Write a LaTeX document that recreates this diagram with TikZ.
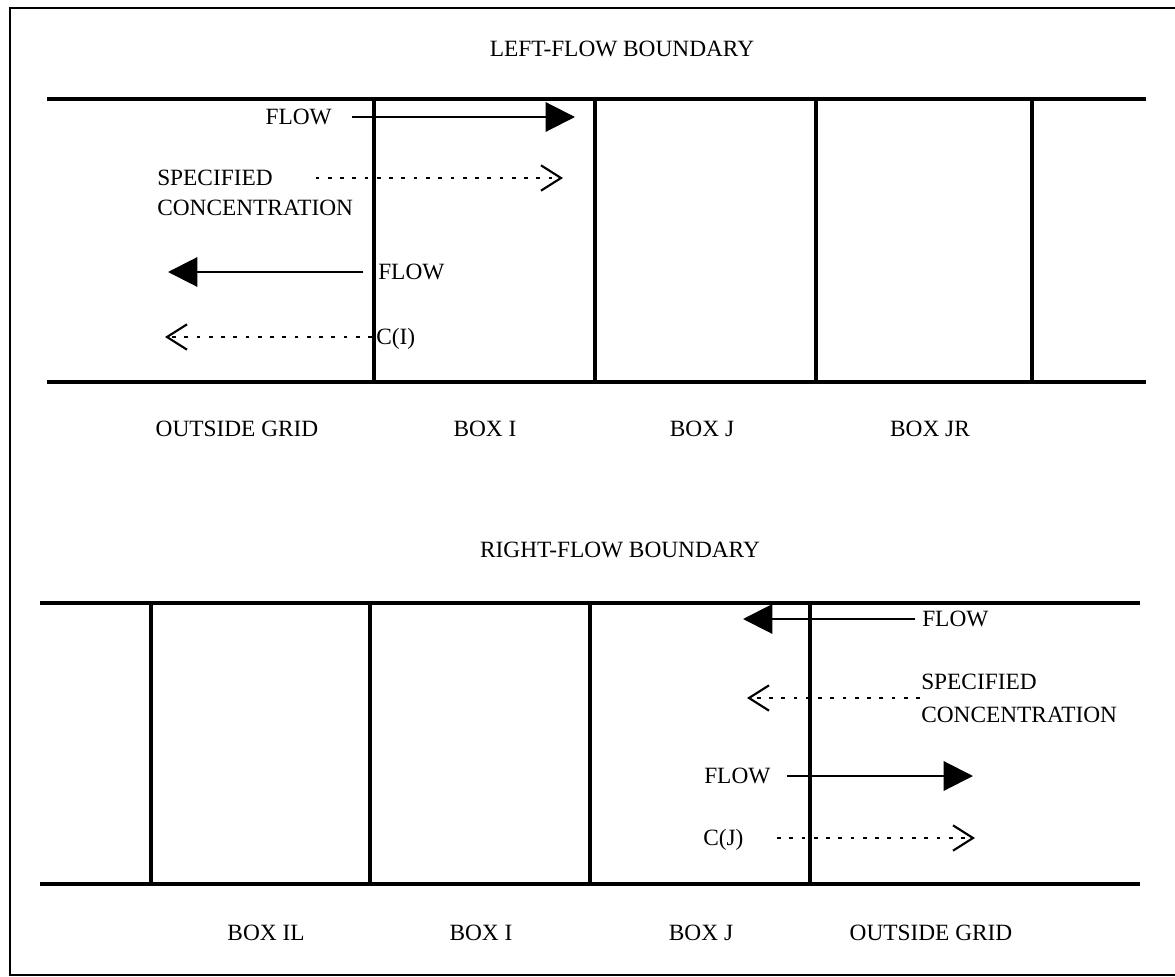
\documentclass[tikz,border=0pt]{standalone}
\usepackage{fontspec}
\setmainfont{Liberation Serif}
\usetikzlibrary{arrows.meta,positioning}

\tikzset{
  wall/.style={line width=3.4pt},
  cellwall/.style={line width=2.6pt},
  lbl/.style={inner sep=0pt, text height=11.6pt, text depth=0pt,
    font=\fontsize{17.5}{22.5}\selectfont},
  flowarr/.style={line width=1.6pt, -{Triangle[length=22pt,width=22pt]}},
  concarr/.style={line width=1.8pt, dash pattern=on 2.8pt off 6.4pt,
    -{Straight Barb[length=15pt,width=19pt,line width=1.6pt]}},
}

\begin{document}
\begin{tikzpicture}[x=0.75pt,y=-0.75pt]
    \useasboundingbox (0,0) rectangle (1175,977);
    \draw[line width=1.4pt] (1190,8) -- (10,8) -- (10,975) -- (1190,975);

    \node[lbl] (leftttl) at (622,49) {LEFT-FLOW BOUNDARY};
    \draw[wall] (47,99) -- (1146,99);
    \draw[wall] (47,382) -- (1146,382);
    \foreach \x in {374,595,816,1032}
      \draw[cellwall] (\x,99) -- (\x,382);
    \node[lbl] (outL) at (237,429) {OUTSIDE GRID};
    \node[lbl] (boxIa) at (485,429) {BOX I};
    \node[lbl] (boxJa) at (702,429) {BOX J};
    \node[lbl] (boxJR) at (930,429) {BOX JR};

    \node[lbl, anchor=east] (flowA) at (332,117) {FLOW};
    \coordinate (tipA) at (575,117);
    \draw[flowarr] ([xshift=15pt]flowA.east) -- (tipA);
    \node[lbl, anchor=west] (specA) at (157,178) {SPECIFIED};
    \node[lbl, anchor=west] (concA) at ([yshift=-22.5pt]specA.west) {CONCENTRATION};
    \coordinate (tipB) at (563,178);
    \draw[concarr] ([xshift=32pt]specA.east) -- (tipB);
    \node[lbl, anchor=west] (flowB) at (378,272) {FLOW};
    \coordinate (tipC) at (168,272);
    \draw[flowarr] ([xshift=-11pt]flowB.west) -- (tipC);
    \node[lbl, anchor=west] (cI) at (376,337) {C(I)};
    \coordinate (tipD) at (165,337);
    \draw[concarr] ([xshift=-3pt]cI.west) -- (tipD);

    \node[lbl] (rightttl) at (620,550) {RIGHT-FLOW BOUNDARY};
    \draw[wall] (40,603) -- (1140,603);
    \draw[wall] (40,884) -- (1140,884);
    \foreach \x in {151,370,590,810}
      \draw[cellwall] (\x,603) -- (\x,884);
    \node[lbl] (boxIL) at (266,933) {BOX IL};
    \node[lbl] (boxIb) at (481,933) {BOX I};
    \node[lbl] (boxJb) at (701,933) {BOX J};
    \node[lbl] (outR) at (931,933) {OUTSIDE GRID};

    \node[lbl, anchor=west] (flowC) at (922,619) {FLOW};
    \coordinate (tipE) at (743,619);
    \draw[flowarr] ([xshift=-5pt]flowC.west) -- (tipE);
    \node[lbl, anchor=west] (specB) at (921,682) {SPECIFIED};
    \node[lbl, anchor=west] (concB) at ([yshift=-24.75pt]specB.west) {CONCENTRATION};
    \coordinate (tailF) at (920,698);
    \coordinate (tipF) at (747,698);
    \draw[concarr] (tailF) -- (tipF);
    \node[lbl, anchor=west] (flowD) at (704,776) {FLOW};
    \coordinate (tipG) at (973,776);
    \draw[flowarr] ([xshift=12pt]flowD.east) -- (tipG);
    \node[lbl, anchor=west] (cJ) at (703,838) {C(J)};
    \coordinate (tipH) at (975,838);
    \draw[concarr] ([xshift=25pt]cJ.east) -- (tipH);
  \end{tikzpicture}
\end{document}
